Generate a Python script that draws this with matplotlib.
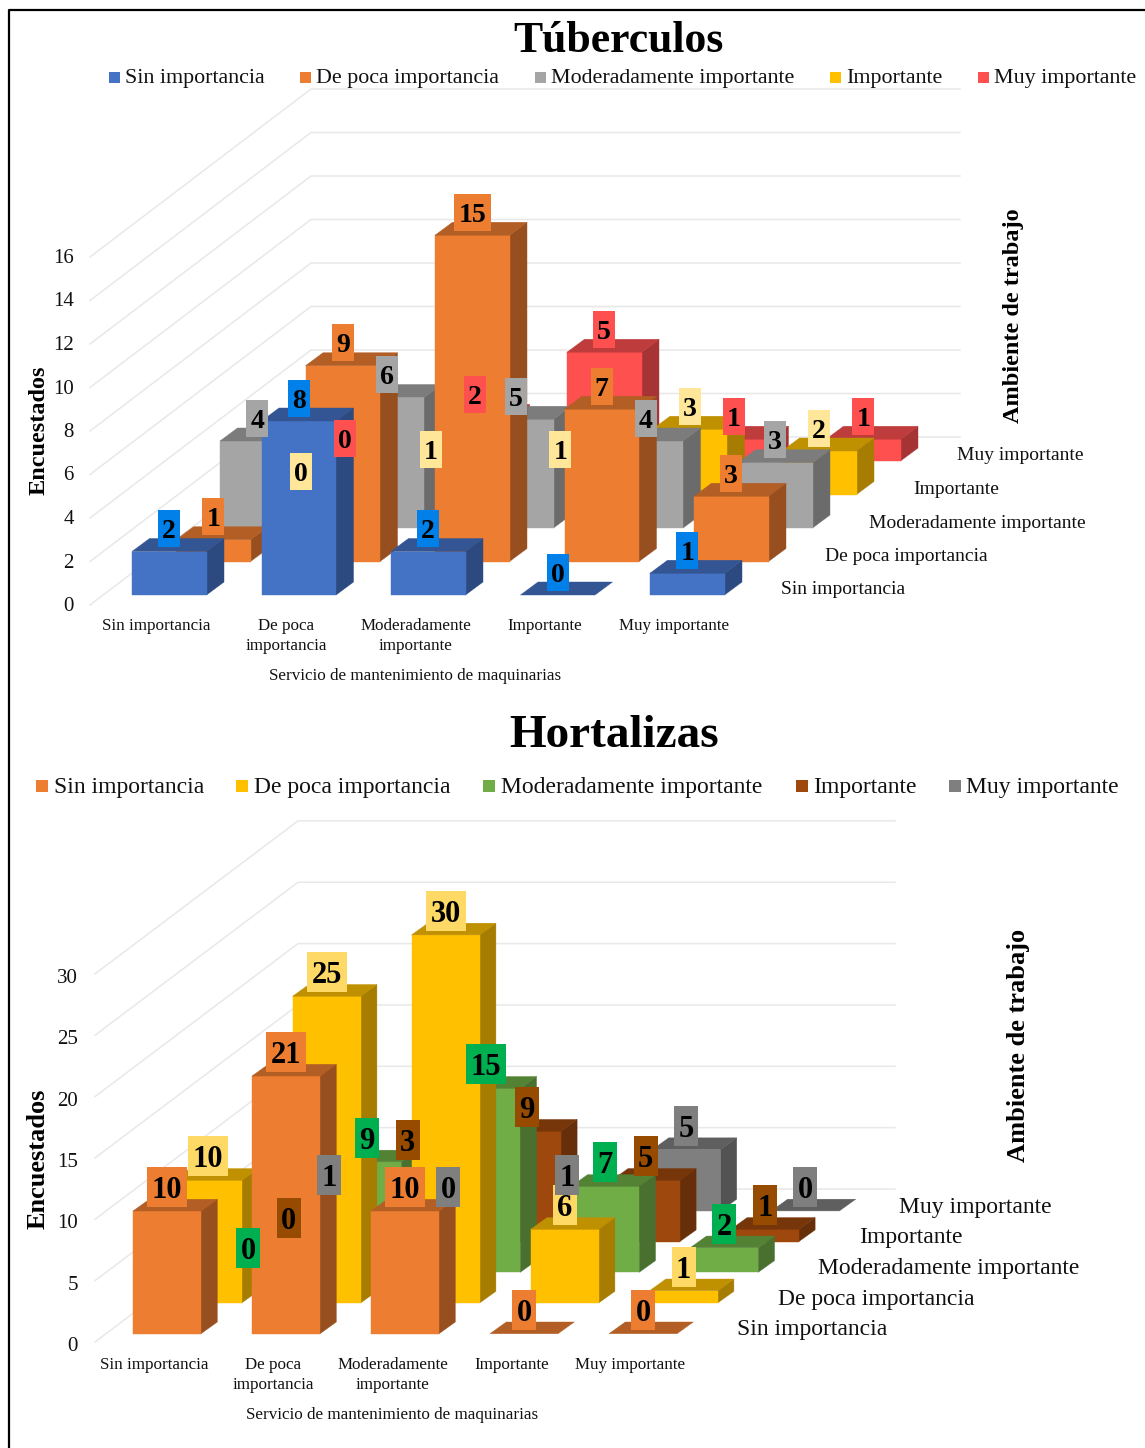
"""Two Excel style 3D column charts (Tuberculos, Hortalizas), drawn with an oblique projection."""
import matplotlib
matplotlib.use("Agg")
import matplotlib.pyplot as plt
from matplotlib.patches import Polygon, Rectangle

plt.rcParams["font.family"] = ["Liberation Serif", "DejaVu Serif"]

series = ["Sin importancia", "De poca importancia", "Moderadamente importante", "Importante", "Muy importante"]
categories = ["Sin importancia", "De poca\nimportancia", "Moderadamente\nimportante", "Importante", "Muy importante"]
x_title = "Servicio de mantenimiento de maquinarias"

# one list per row of the depth axis, front to back
tub_sin = [2, 8, 2, 0, 1]
tub_poca = [1, 9, 15, 7, 3]
tub_mod = [4, 6, 5, 4, 3]
tub_imp = [0, 1, 1, 3, 2]
tub_muy = [0, 2, 5, 1, 1]
tub_ticks = [0, 2, 4, 6, 8, 10, 12, 14, 16]

hor_sin = [10, 21, 10, 0, 0]
hor_poca = [10, 25, 30, 6, 1]
hor_mod = [0, 9, 15, 7, 2]
hor_imp = [0, 3, 9, 5, 1]
hor_muy = [1, 0, 1, 5, 0]
hor_ticks = [0, 5, 10, 15, 20, 25, 30]

# front, top, side, data label
tub_colors = [("#4472C4", "#335593", "#2C4A80", "#0080E8"),
              ("#ED7D31", "#B25E25", "#974F20", "#ED7D31"),
              ("#A5A5A5", "#7C7C7C", "#6B6B6B", "#A5A5A5"),
              ("#FFC000", "#BF9000", "#A67D00", "#FFE699"),
              ("#FF5050", "#BF3C3C", "#A63434", "#FF5050")]
hor_colors = [("#ED7D31", "#B25E25", "#974F20", "#ED7D31"),
              ("#FFC000", "#BF9000", "#A67D00", "#FFD966"),
              ("#70AD47", "#548235", "#49702E", "#00B050"),
              ("#9E480E", "#77360A", "#672F09", "#964B00"),
              ("#7F7F7F", "#5F5F5F", "#535353", "#7F7F7F")]

fig = plt.figure(figsize=(11.45, 14.48), dpi=100)
ax = fig.add_axes([0, 0, 1, 1])
ax.set_xlim(0, 1145); ax.set_ylim(1448, 0); ax.axis("off")

# frame of the pasted picture
ax.plot([9, 9, 1145], [1448, 9.5, 9.5], color="black", lw=1.6, solid_capstyle="butt")


def panel(rows, colors, ticks, g):
    """g holds the pixel geometry of one chart."""
    def pt(col, row, val):
        return (g["x0"] + col * g["col"] + row * g["rx"], g["y0"] - row * g["ry"] - val * g["unit"])

    # walls
    for v in ticks:
        yb = g["wall_y"] - v * g["unit"]
        yf = g["left_y"] - v * g["unit"]
        ax.plot([g["left_x"], g["wall_x"], g["wall_end"]], [yf, yb, yb], color="#E8E8E8", lw=1.1, zorder=1)
        ax.text(g["tick_x"], yf + g["tick_dy"], str(v), ha="right", va="center", fontsize=g["fs_tick"], color="#111111")

    # bars back to front
    w, dx, dy = g["w"], g["dx"], g["dy"]
    z = 2
    for r in range(len(rows) - 1, -1, -1):
        front, top, side, _ = colors[r]
        for c, val in enumerate(rows[r]):
            x, yt = pt(c, r, val)
            _, yb = pt(c, r, 0)
            if val > 0:
                ax.add_patch(Polygon([(x + w, yt), (x + w + dx, yt - dy), (x + w + dx, yb - dy), (x + w, yb)],
                                     fc=side, ec=side, lw=0.3, zorder=z))
                ax.add_patch(Rectangle((x, yt), w, yb - yt, fc=front, ec=front, lw=0.3, zorder=z))
            ax.add_patch(Polygon([(x, yt), (x + dx, yt - dy), (x + w + dx, yt - dy), (x + w, yt)],
                                 fc=top, ec=top, lw=0.3, zorder=z))
            z += 1

    # data labels over everything
    for r, vals in enumerate(rows):
        for c, val in enumerate(vals):
            x, yt = pt(c, r, val)
            # some labels were dragged by hand in the original
            cx, cy = x + w / 2, yt - g["lab_off"] + g["moved"].get((r, c), 0)
            bw = g["lab_w2"] if val >= 10 else g["lab_w1"]
            ax.add_patch(Rectangle((cx - bw / 2, cy - g["lab_h"] / 2), bw, g["lab_h"], fc=colors[r][3], ec="none", zorder=500))
            ax.text(cx, cy, str(val), ha="center", va="center_baseline", fontsize=g["fs_lab"], weight="bold",
                    color="black", zorder=501)

    # category and series names
    for c, name in enumerate(categories):
        ax.text(g["cat_x"] + c * g["col"], g["cat_y"], name, ha="center", va="top", fontsize=g["fs_cat"],
                linespacing=g["cat_ls"], color="#111111")
    ax.text(g["cat_x"] + 2 * g["col"], g["xt_y"], x_title, ha="center", va="center", fontsize=g["fs_cat"], color="#111111")
    for r, name in enumerate(series):
        ax.text(g["ser_x"] + r * g["rx"], g["ser_y"] - r * g["ry"], name, ha="left", va="center",
                fontsize=g["fs_ser"], color="#111111")

    # titles
    ax.text(g["title_x"], g["title_y"], g["title"], ha="center", va="center", fontsize=g["fs_title"], weight="bold", color="black")
    ax.text(g["yl_x"], g["yl_y"], "Encuestados", rotation=90, ha="center", va="center", fontsize=g["fs_axis"], weight="bold")
    ax.text(g["zl_x"], g["zl_y"], "Ambiente de trabajo", rotation=90, ha="center", va="center", fontsize=g["fs_axis"], weight="bold")

    # legend
    for name, c, sx, tx in zip(series, colors, g["leg_sq"], g["leg_tx"]):
        s = g["leg_s"]
        ax.add_patch(Rectangle((sx, g["leg_y"] - s / 2), s, s, fc=c[0], ec="none"))
        ax.text(tx, g["leg_y"] + 2, name, ha="left", va="center", fontsize=g["fs_leg"], color="#111111")


panel([tub_sin, tub_poca, tub_mod, tub_imp, tub_muy], tub_colors, tub_ticks, dict(
    x0=132, y0=595, col=129.5, rx=44, ry=33.5, unit=21.75, w=74.5, dx=17.5, dy=13,
    left_x=90, left_y=605, wall_x=311, wall_y=437, wall_end=960, tick_x=74, tick_dy=1.5, moved={},
    lab_off=23, lab_w1=22, lab_w2=37, lab_h=37, fs_lab=20, fs_tick=15, fs_cat=12.25, cat_ls=1.3,
    cat_x=156.5, cat_y=618, xt_y=676, ser_x=781, ser_y=590, fs_ser=14, title="Túberculos", title_x=619, title_y=41,
    fs_title=31.5, fs_axis=17.5, yl_x=39, yl_y=430, zl_x=1014, zl_y=316, leg_y=77, leg_s=11, fs_leg=15.87,
    leg_sq=[109, 300, 535, 830, 978], leg_tx=[125, 316, 551, 846, 994]))

panel([hor_sin, hor_poca, hor_mod, hor_imp, hor_muy], hor_colors, hor_ticks, dict(
    x0=133, y0=1333.7, col=119, rx=40.6, ry=30.7, unit=12.27, w=68, dx=16.3, dy=11.7,
    left_x=95, left_y=1342, wall_x=298, wall_y=1189, wall_end=895, tick_x=78, tick_dy=4.5, moved={(3, 1): -41},
    lab_off=24, lab_w1=24, lab_w2=40, lab_h=40, fs_lab=22, fs_tick=15, fs_cat=12.25, cat_ls=1.3,
    cat_x=154.5, cat_y=1357, xt_y=1415, ser_x=737, ser_y=1330, fs_ser=17, title="Hortalizas", title_x=614, title_y=736,
    fs_title=34, fs_axis=19, yl_x=38, yl_y=1159, zl_x=1018, zl_y=1045, leg_y=786, leg_s=12, fs_leg=17.05,
    leg_sq=[36, 236, 483, 796, 949], leg_tx=[54, 254, 501, 813, 966]))

fig.savefig("out.png", dpi=100)
